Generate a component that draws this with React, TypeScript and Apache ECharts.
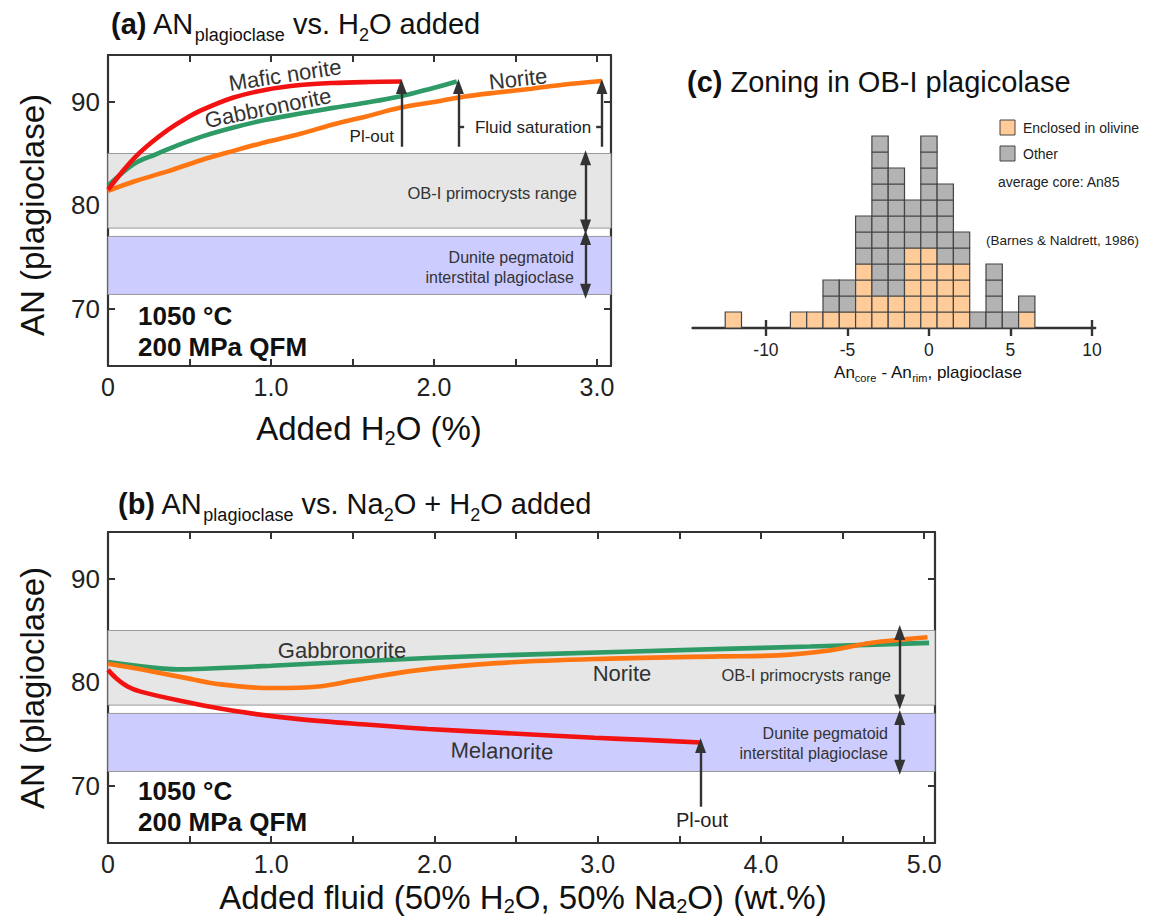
import React, { useEffect, useRef } from 'react';
import * as echarts from 'echarts';

const FONT = '"Liberation Sans", Arial, Helvetica, sans-serif';

// ---------- Panel (a): AN vs H2O added ----------
const maficNoriteA: number[][] = [[0, 81.5], [0.08, 83.1], [0.17, 84.7], [0.27, 86.1], [0.37, 87.3], [0.47, 88.3], [0.57, 89.15], [0.77, 90.4], [0.97, 91.15], [1.18, 91.6], [1.38, 91.8], [1.6, 91.9], [1.8, 91.95]];
const gabbronoriteA: number[][] = [[0, 81.9], [0.16, 84.0], [0.29, 84.9], [0.43, 85.8], [0.57, 86.6], [0.77, 87.5], [0.97, 88.25], [1.18, 88.85], [1.38, 89.4], [1.58, 89.9], [1.79, 90.5], [1.99, 91.3], [2.14, 91.95]];
const noriteA: number[][] = [[0, 81.4], [0.16, 82.3], [0.37, 83.3], [0.57, 84.35], [0.77, 85.25], [0.97, 86.1], [1.18, 86.9], [1.38, 87.8], [1.59, 88.6], [1.79, 89.4], [1.99, 89.95], [2.19, 90.5], [2.4, 90.9], [2.6, 91.25], [2.8, 91.65], [3.03, 92.0]];
const saturationA = [1.8, 2.15, 3.03]; // x of Pl-out / fluid saturation arrows

// ---------- Panel (b): AN vs Na2O + H2O added ----------
const gabbronoriteB: number[][] = [[0, 81.95], [0.42, 81.25], [1.0, 81.6], [1.96, 82.35], [2.6, 82.7], [3.72, 83.2], [4.3, 83.45], [5.03, 83.8]];
const noriteB: number[][] = [[0, 81.8], [0.2, 81.25], [0.45, 80.5], [0.69, 79.8], [1.0, 79.45], [1.29, 79.6], [1.53, 80.25], [1.89, 81.15], [2.38, 81.85], [2.98, 82.25], [3.75, 82.5], [4.1, 82.6], [4.43, 83.1], [4.67, 83.8], [5.02, 84.35]];
const melanoriteB: number[][] = [[0, 81.2], [0.05, 80.4], [0.12, 79.6], [0.2, 79.1], [0.45, 78.2], [0.79, 77.2], [1.17, 76.45], [1.6, 75.9], [1.96, 75.5], [2.38, 75.15], [2.98, 74.65], [3.29, 74.45], [3.63, 74.2]];
const plOutB = 3.63;

// ---------- Reference ranges ----------
const obRange = [77.8, 85.0];
const duniteRange = [71.4, 77.0];

// ---------- Panel (c): histogram ----------
const histBins = [-12, -8, -7, -6, -5, -4, -3, -2, -1, 0, 1, 2, 3, 4, 5, 6];
const enclosedCounts = [1, 1, 1, 1, 1, 4, 2, 2, 5, 5, 4, 4, 0, 0, 0, 1];
const otherCounts = [0, 0, 0, 2, 2, 3, 10, 8, 3, 7, 5, 2, 1, 4, 1, 1];

// ---------- Ticks ----------
const yTicks = [70, 80, 90];
const aXTicks = [0, 0.5, 1, 1.5, 2, 2.5, 3];
const aXLabels = [0, 1, 2, 3];
const bXTicks = [0, 0.5, 1, 1.5, 2, 2.5, 3, 3.5, 4, 4.5, 5];
const bXLabels = [0, 1, 2, 3, 4, 5];
const cXTicks = [-10, -5, 0, 5, 10];

const AXIS = '#333';
const RED = '#F21212';
const GREEN = '#2E9A66';
const ORANGE = '#FF7512';
const PEACH = '#FFCC99';
const GREY = '#B3B3B3';

const fmtX = (v: number) => (v === 0 ? '0' : v.toFixed(1));

function frameAxes(grid: number, xmin: number, xmax: number, xTicks: number[], xLabels: number[]) {
  const line = { show: true, onZero: false, lineStyle: { color: AXIS, width: 2.2 } };
  const tick = (vals: number[]) => ({ show: true, inside: true, length: 7, customValues: vals, lineStyle: { color: AXIS, width: 2 } });
  const xAxes = [
    {
      type: 'value', gridIndex: grid, position: 'bottom', min: xmin, max: xmax,
      axisLine: line, axisTick: tick(xTicks), splitLine: { show: false },
      axisLabel: { customValues: xLabels, formatter: fmtX, fontSize: 25, color: '#222', margin: 8, fontFamily: FONT },
    },
    {
      type: 'value', gridIndex: grid, position: 'top', min: xmin, max: xmax,
      axisLine: line, axisTick: tick(xTicks), splitLine: { show: false }, axisLabel: { show: false },
    },
  ];
  const yAxes = [
    {
      type: 'value', gridIndex: grid, position: 'left', min: 64.5, max: 94.5,
      axisLine: line, axisTick: tick(yTicks), splitLine: { show: false },
      axisLabel: { customValues: yTicks, fontSize: 26, color: '#222', margin: 8, fontFamily: FONT },
    },
    {
      type: 'value', gridIndex: grid, position: 'right', min: 64.5, max: 94.5,
      axisLine: line, axisTick: tick(yTicks), splitLine: { show: false }, axisLabel: { show: false },
    },
  ];
  return { xAxes, yAxes };
}

function bandSeries(xi: number, yi: number) {
  return {
    type: 'line', xAxisIndex: xi, yAxisIndex: yi, data: [], z: 1, silent: true,
    markArea: {
      silent: true,
      itemStyle: { borderColor: '#999', borderWidth: 1 },
      data: [
        [{ yAxis: obRange[1], itemStyle: { color: '#E6E6E6', borderColor: '#999', borderWidth: 1 } }, { yAxis: obRange[0] }],
        [{ yAxis: duniteRange[1], itemStyle: { color: '#CCCCFF', borderColor: '#999', borderWidth: 1 } }, { yAxis: duniteRange[0] }],
      ],
    },
  };
}

function curve(xi: number, yi: number, data: number[][], color: string, smooth = 0.35) {
  return {
    type: 'line', xAxisIndex: xi, yAxisIndex: yi, data, smooth, symbol: 'none', z: 4, silent: true,
    lineStyle: { color, width: 4.6, cap: 'butt' },
  };
}

function arrowSeries(xi: number, yi: number, segs: number[][][], symbol: string[]) {
  return {
    type: 'line', xAxisIndex: xi, yAxisIndex: yi, data: [], z: 5, silent: true,
    markLine: {
      silent: true, symbol, symbolSize: [11, 15], animation: false,
      lineStyle: { color: AXIS, width: 2.4, type: 'solid' },
      label: { show: false },
      data: segs.map((s) => [{ coord: s[0] }, { coord: s[1] }]),
    },
  };
}

function txt(x: number, y: number, text: string, fontSize: number, opts: any = {}) {
  const { align = 'left', weight = 'normal', rotation = 0, color = '#333', rich } = opts;
  return {
    type: 'text', x, y, rotation, silent: true, z: 10,
    style: {
      text, fontSize, fontFamily: FONT, fontWeight: weight, fill: color,
      align, textAlign: align, verticalAlign: 'middle', textVerticalAlign: 'middle',
      rich,
    },
  };
}

function richSub(fontSize: number, subSize: number, lh = 10) {
  return {
    m: { fontSize, fontFamily: FONT, fill: '#111', color: '#111', lineHeight: fontSize + lh },
    b: { fontSize, fontFamily: FONT, fontWeight: 'bold', fill: '#111', color: '#111', lineHeight: fontSize + lh },
    s: { fontSize: subSize, fontFamily: FONT, fill: '#111', color: '#111', verticalAlign: 'bottom', lineHeight: subSize + 1 },
  };
}

export default function App() {
  const ref = useRef<HTMLDivElement>(null);
  useEffect(() => {
    document.body.style.margin = '0';
    if (!ref.current) return;
    const chart = echarts.init(ref.current, null, { renderer: 'svg' });

    const a = frameAxes(0, 0, 3.086, aXTicks, aXLabels);
    const b = frameAxes(1, 0, 5.066, bXTicks, bXLabels);

    const cells: number[][] = [];
    histBins.forEach((bin, i) => {
      for (let k = 0; k < enclosedCounts[i]; k++) cells.push([bin, k, 0]);
      for (let k = 0; k < otherCounts[i]; k++) cells.push([bin, enclosedCounts[i] + k, 1]);
    });

    const xAxis: any[] = [
      ...a.xAxes, // 0,1
      ...b.xAxes, // 2,3
      {
        type: 'value', gridIndex: 2, position: 'bottom', min: -14.5, max: 10.2,
        axisLine: { show: true, lineStyle: { color: AXIS, width: 2.4 } },
        axisTick: { show: true, inside: false, length: 8, customValues: cXTicks, lineStyle: { color: AXIS, width: 2.4 } },
        axisLabel: { customValues: cXTicks, fontSize: 17.5, color: '#222', margin: 13, fontFamily: FONT },
        splitLine: { show: false },
      },
      {
        type: 'value', gridIndex: 2, position: 'bottom', min: -14.5, max: 10.2,
        axisLine: { show: false },
        axisTick: { show: true, inside: true, length: 8, customValues: cXTicks, lineStyle: { color: AXIS, width: 2.4 } },
        axisLabel: { show: false },
        splitLine: { show: false },
      },
    ];
    const yAxis: any[] = [
      ...a.yAxes, // 0,1
      ...b.yAxes, // 2,3
      { type: 'value', gridIndex: 2, min: 0, max: 12, show: false },
    ];

    const option: any = {
      animation: false,
      textStyle: { fontFamily: FONT },
      grid: [
        { left: 108, top: 55, width: 503, height: 311 },
        { left: 108, top: 532, width: 827, height: 311 },
        { left: 692.6, top: 136, width: 402.6, height: 192 },
      ],
      xAxis,
      yAxis,
      series: [
        bandSeries(0, 0),
        curve(0, 0, noriteA, ORANGE),
        curve(0, 0, gabbronoriteA, GREEN),
        curve(0, 0, maficNoriteA, RED),
        arrowSeries(0, 0, saturationA.map((x) => [[x, 85.65], [x, 91.45]]), ['none', 'triangle']),
        arrowSeries(0, 0, [[[saturationA[1], 87.6], [saturationA[1] + 0.035, 87.6]], [[saturationA[2] - 0.035, 87.6], [saturationA[2], 87.6]]], ['none', 'none']),
        arrowSeries(0, 0, [[[2.93, 84.6], [2.93, 77.9]], [[2.93, 76.9], [2.93, 71.7]]], ['triangle', 'triangle']),

        bandSeries(2, 2),
        curve(2, 2, gabbronoriteB, GREEN, 0.2),
        curve(2, 2, noriteB, ORANGE),
        curve(2, 2, melanoriteB, RED),
        arrowSeries(2, 2, [[[plOutB, 68.0], [plOutB, 73.9]]], ['none', 'triangle']),
        arrowSeries(2, 2, [[[4.85, 84.8], [4.85, 78.1]], [[4.85, 76.6], [4.85, 71.8]]], ['triangle', 'triangle']),

        {
          type: 'custom', xAxisIndex: 4, yAxisIndex: 4, data: cells, silent: true, z: 3,
          encode: { x: 0, y: 1 },
          renderItem: (params: any, api: any) => {
            const x = api.value(0);
            const lvl = api.value(1);
            const kind = api.value(2);
            const p0 = api.coord([x - 0.5, lvl + 1]);
            const p1 = api.coord([x + 0.5, lvl]);
            return {
              type: 'rect',
              shape: { x: p0[0], y: p0[1], width: p1[0] - p0[0], height: p1[1] - p0[1] },
              style: { fill: kind === 0 ? PEACH : GREY, stroke: '#444', lineWidth: 1.2 },
            };
          },
        },
      ],
      graphic: [
        // Titles
        txt(111, 24, '{b|(a)}{m| AN}{s|plagioclase}{m| vs. H}{s|2}{m|O added}', 29, { rich: richSub(29, 18) }),
        txt(118, 504, '{b|(b)}{m| AN}{s|plagioclase}{m| vs. Na}{s|2}{m|O + H}{s|2}{m|O added}', 29, { rich: richSub(29, 18) }),
        txt(687, 82, '{b|(c)}{m| Zoning in OB-I plagicolase}', 29, { rich: richSub(29, 18) }),

        // Axis names
        txt(32, 215, 'AN (plagioclase)', 33, { align: 'center', rotation: Math.PI / 2, color: '#111' }),
        txt(32, 688, 'AN (plagioclase)', 33, { align: 'center', rotation: Math.PI / 2, color: '#111' }),
        txt(369, 428, '{m|Added H}{s|2}{m|O (%)}', 33, { align: 'center', rich: richSub(33, 20, 6) }),
        txt(523, 897, '{m|Added fluid (50% H}{s|2}{m|O, 50% Na}{s|2}{m|O) (wt.%)}', 33, { align: 'center', rich: richSub(33, 20, 4) }),
        txt(928, 372, '{m|An}{s|core}{m| - An}{s|rim}{m|, plagioclase}', 17, { align: 'center', rich: richSub(17, 11, 6) }),

        // Panel (a) annotations
        txt(285, 75, 'Mafic norite', 22, { align: 'center', rotation: 0.15 }),
        txt(268, 108, 'Gabbronorite', 22, { align: 'center', rotation: 0.2 }),
        txt(518, 79, 'Norite', 22, { align: 'center', rotation: 0.11 }),
        txt(394, 136, 'Pl-out', 17, { align: 'right', color: '#222' }),
        txt(533, 127, 'Fluid saturation', 17, { align: 'center', color: '#222' }),
        txt(577, 193, 'OB-I primocrysts range', 16.5, { align: 'right' }),
        txt(574, 257, 'Dunite pegmatoid', 16, { align: 'right' }),
        txt(574, 277, 'interstital plagioclase', 16, { align: 'right' }),
        txt(138, 316, '1050 °C', 26, { weight: 'bold', color: '#111' }),
        txt(138, 347, '200 MPa QFM', 26, { weight: 'bold', color: '#111' }),

        // Panel (b) annotations
        txt(342, 650, 'Gabbronorite', 22, { align: 'center' }),
        txt(622, 673, 'Norite', 22, { align: 'center' }),
        txt(502, 751, 'Melanorite', 22, { align: 'center', rotation: -0.02 }),
        txt(891, 675, 'OB-I primocrysts range', 16.5, { align: 'right' }),
        txt(888, 733, 'Dunite pegmatoid', 16, { align: 'right' }),
        txt(888, 753, 'interstital plagioclase', 16, { align: 'right' }),
        txt(702, 820, 'Pl-out', 20, { align: 'center', color: '#222' }),
        txt(138, 791, '1050 °C', 26, { weight: 'bold', color: '#111' }),
        txt(138, 822, '200 MPa QFM', 26, { weight: 'bold', color: '#111' }),

        // Panel (c) legend and notes
        { type: 'rect', shape: { x: 1000, y: 120, width: 15, height: 15 }, style: { fill: PEACH, stroke: '#444', lineWidth: 1 }, silent: true },
        txt(1023, 128, 'Enclosed in olivine', 14, { color: '#222' }),
        { type: 'rect', shape: { x: 1000, y: 146, width: 15, height: 15 }, style: { fill: GREY, stroke: '#444', lineWidth: 1 }, silent: true },
        txt(1023, 154, 'Other', 14, { color: '#222' }),
        txt(998, 182, 'average core: An85', 14, { color: '#222' }),
        txt(986, 240, '(Barnes & Naldrett, 1986)', 13.5, { color: '#222' }),
      ],
    };

    chart.setOption(option);
    return () => chart.dispose();
  }, []);

  return <div ref={ref} style={{ width: 1151, height: 921 }} />;
}
